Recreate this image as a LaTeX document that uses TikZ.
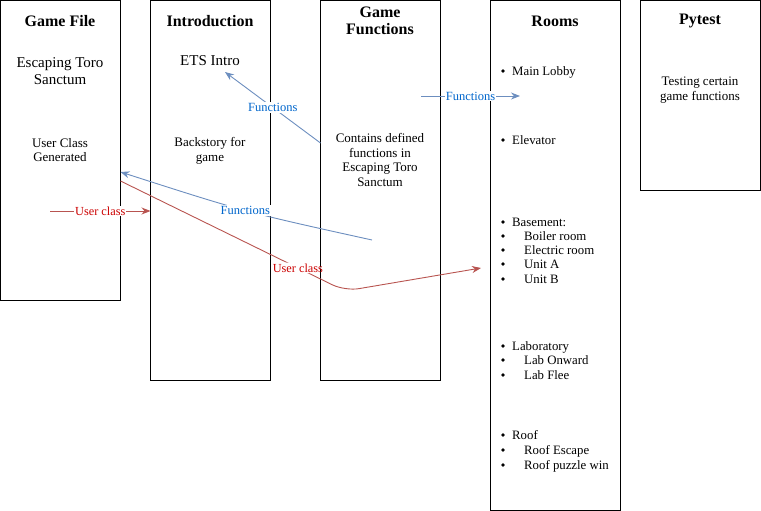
\documentclass[tikz,border=0pt]{standalone}
\usepackage{fontspec}
\setmainfont{Liberation Serif}
\usetikzlibrary{arrows.meta}
\definecolor{bluline}{HTML}{6C8EBF}
\definecolor{blutext}{HTML}{0066CC}
\definecolor{redline}{HTML}{B85450}
\definecolor{redtext}{HTML}{CC0000}
\tikzset{
  colbox/.style={draw, line width=1pt, inner sep=0pt, outer sep=0pt},
  titletext/.style={font=\fontsize{16}{17}\selectfont\bfseries, align=center, inner sep=0pt},
  bigtext/.style={font=\fontsize{15}{17}\selectfont, align=center, inner sep=0pt},
  smalltext/.style={font=\fontsize{13}{14.8}\selectfont, align=center, inner sep=0pt},
  itemtext/.style={font=\fontsize{12.8}{14}\selectfont, inner sep=0pt, anchor=base west},
  redarrow/.style={draw=redline, line width=0.9pt, -{Stealth[length=9pt,width=7pt]}},
  bluarrow/.style={draw=bluline, line width=0.9pt, -{Stealth[length=9pt,width=7pt]}},
  redlabel/.style={fill=white, text=redtext, inner sep=1pt, font=\fontsize{12.3}{14}\selectfont},
  blulabel/.style={fill=white, text=blutext, inner sep=1pt, font=\fontsize{12.5}{14}\selectfont}
}
\begin{document}
\begin{tikzpicture}[x=1pt,y=-1pt]
\useasboundingbox (0,0) rectangle (761,511);
% columns
\node[colbox, minimum width=120pt, minimum height=300pt] (gamefile) at (60.5,150.5) {};
\node[colbox, minimum width=120pt, minimum height=380pt] (intro) at (210.5,190.5) {};
\node[colbox, minimum width=120pt, minimum height=380pt] (gfunc) at (380.5,190.5) {};
\node[colbox, minimum width=130pt, minimum height=510pt] (rooms) at (555.5,255.5) {};
\node[colbox, minimum width=120pt, minimum height=190pt] (pytest) at (700.5,95.5) {};
% texts
\node[titletext] (gftitle) at (60,21) {Game File};
\node[bigtext] (ets) at (60,71) {Escaping Toro\\Sanctum};
\node[smalltext] (ucg) at (60,150) {User Class\\Generated};
\node[titletext] (introtitle) at (210,21) {Introduction};
\node[bigtext] (etsintro) at (210,61) {ETS Intro};
\node[smalltext] (backstory) at (210,151) {Backstory for\\game};
\node[titletext] (fntitle) at (380,21) {Game\\Functions};
\node[smalltext] (contains) at (380,160) {Contains defined\\functions in\\Escaping Toro\\Sanctum};
\node[titletext] (roomstitle) at (555,21) {Rooms};
\node[titletext] (pytitle) at (700,21) {Pytest};
\node[smalltext] (testing) at (700,90) {Testing certain\\game functions};
% room list
\foreach \y/\t/\x [count=\i] in {71/Main Lobby/512,140/Elevator/512,222/Basement:/512,
  236/Boiler room/524,250/Electric room/524,264/Unit A/524,279/Unit B/524,
  346/Laboratory/512,360/Lab Onward/524,375/Lab Flee/524,
  435/Roof/512,450/Roof Escape/524,465/Roof puzzle win/524}
{
  \fill (503,\y) circle (1.8pt);
  \node[itemtext] (room\i) at (\x,\y+4.5) {\t};
}
% connectors
\coordinate (ucstart) at (50,211);
\coordinate (etsend) at (225,72);
\coordinate (fnstart) at (421,96);
\coordinate (fnend) at (520,96);
\coordinate (backstart) at (372,240);
\coordinate (bend) at (345,291);
\coordinate (unitend) at (481,268);
\draw[redarrow] (ucstart) -- node[redlabel] {User class} (intro.west |- ucstart);
\draw[bluarrow] (gfunc.west |- 0,143) -- node[blulabel] {Functions} (etsend);
\draw[bluarrow] (fnstart) -- node[blulabel] {Functions} (fnend);
\draw[bluarrow] (backstart) .. controls (245,212) .. node[blulabel, pos=0.5] {Functions} (gamefile.east |- 0,172);
\draw[redarrow, rounded corners=14pt] (gamefile.east |- 0,181) -- node[redlabel, pos=0.79] {User class} (bend) -- (unitend);
\end{tikzpicture}
\end{document}
